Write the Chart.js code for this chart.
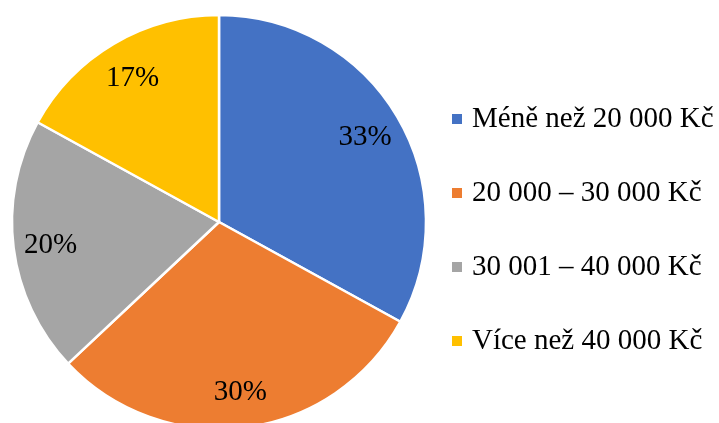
<!DOCTYPE html>
<html>
<head>
<meta charset="utf-8">
<script src="https://cdn.jsdelivr.net/npm/chart.js@4/dist/chart.umd.min.js"></script>
<style>
  html, body { margin: 0; padding: 0; background: #fff; overflow: hidden; }
  #wrap { width: 719px; height: 423px; position: relative; }
</style>
</head>
<body>
<div id="wrap"><canvas id="incomeChart"></canvas></div>
<script>
const labels = ['Méně než 20 000 Kč', '20 000 – 30 000 Kč', '30 001 – 40 000 Kč', 'Více než 40 000 Kč'];
const shares = [33, 30, 20, 17];
const colors = ['#4472C4', '#ED7D31', '#A5A5A5', '#FFC000'];

const FONT = '29px "Liberation Serif", "Times New Roman", serif';

// percentage labels inside the slices
const sliceLabels = {
  id: 'sliceLabels',
  afterDatasetsDraw(chart) {
    const ctx = chart.ctx;
    const meta = chart.getDatasetMeta(0);
    ctx.save();
    ctx.font = FONT;
    ctx.fillStyle = '#000';
    ctx.textAlign = 'center';
    ctx.textBaseline = 'middle';
    meta.data.forEach((arc, i) => {
      const mid = (arc.startAngle + arc.endAngle) / 2;
      const r = arc.outerRadius * 0.82;
      ctx.fillText(shares[i] + '%', arc.x + Math.cos(mid) * r, arc.y + Math.sin(mid) * r + 2);
    });
    ctx.restore();
  }
};

// legend on the right side
const sideLegend = {
  id: 'sideLegend',
  afterDraw(chart) {
    const ctx = chart.ctx;
    const x0 = 452, y0 = 118, step = 74;
    ctx.save();
    ctx.font = FONT;
    ctx.textBaseline = 'middle';
    ctx.textAlign = 'left';
    chart.data.labels.forEach((lab, i) => {
      const y = y0 + i * step;
      ctx.fillStyle = chart.data.datasets[0].backgroundColor[i];
      ctx.fillRect(x0, y - 4, 10, 10);
      ctx.fillStyle = '#000';
      ctx.fillText(lab, x0 + 20, y + 1);
    });
    ctx.restore();
  }
};

const ctx = document.getElementById('incomeChart');
new Chart(ctx, {
  type: 'pie',
  data: {
    labels: labels,
    datasets: [{
      data: shares,
      backgroundColor: colors,
      borderColor: '#fff',
      borderWidth: 2.5,
    }],
  },
  options: {
    responsive: true,
    maintainAspectRatio: false,
    animation: false,
    radius: 207,
    layout: { padding: { top: 21, bottom: 0, left: 0, right: 281 } },
    plugins: {
      legend: { display: false },
      tooltip: { enabled: false },
    },
  },
  plugins: [sliceLabels, sideLegend],
});
</script>
</body>
</html>
